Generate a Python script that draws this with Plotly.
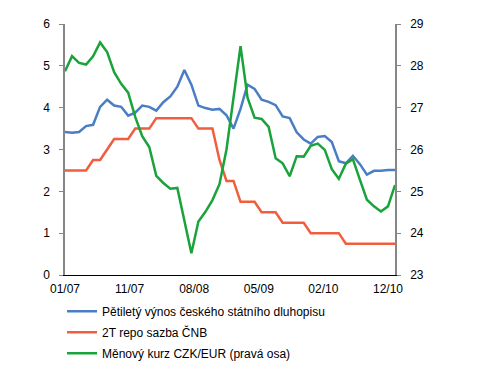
import plotly.graph_objects as go

months = list(range(48))  # monthly index, 01/2007 .. 12/2010
tick_labels = ["01/07", "11/07", "08/08", "05/09", "02/10", "12/10"]
tick_pos = [0, 9.2, 18.4, 27.6, 36.8, 46.0]

bond_5y = [3.42, 3.40, 3.42, 3.56, 3.59, 4.02, 4.19, 4.05, 4.02, 3.81,
           3.88, 4.05, 4.02, 3.93, 4.13, 4.27, 4.50, 4.90, 4.55, 4.05,
           3.99, 3.95, 3.97, 3.82, 3.50, 3.97, 4.55, 4.45, 4.19, 4.14,
           4.06, 3.79, 3.75, 3.41, 3.24, 3.14, 3.30, 3.32, 3.18, 2.72,
           2.67, 2.85, 2.65, 2.40, 2.49, 2.49, 2.51, 2.51]

repo_2w = [2.50, 2.50, 2.50, 2.50, 2.75, 2.75, 3.00, 3.25, 3.25, 3.25,
           3.50, 3.50, 3.50, 3.75, 3.75, 3.75, 3.75, 3.75, 3.75, 3.50,
           3.50, 3.50, 2.75, 2.25, 2.25, 1.75, 1.75, 1.75, 1.50, 1.50,
           1.50, 1.25, 1.25, 1.25, 1.25, 1.00, 1.00, 1.00, 1.00, 1.00,
           0.75, 0.75, 0.75, 0.75, 0.75, 0.75, 0.75, 0.75]

czk_eur = [27.87, 28.23, 28.07, 28.03, 28.23, 28.56, 28.33, 27.85, 27.57, 27.36,
           26.78, 26.32, 26.06, 25.37, 25.20, 25.06, 25.08, 24.30, 23.52, 24.28,
           24.51, 24.79, 25.17, 26.00, 27.25, 28.47, 27.24, 26.76, 26.73, 26.54,
           25.79, 25.67, 25.36, 25.84, 25.83, 26.09, 26.14, 25.99, 25.53, 25.30,
           25.66, 25.77, 25.28, 24.80, 24.64, 24.52, 24.64, 25.15]

names = ["Pětiletý výnos českého státního dluhopisu",
         "2T repo sazba ČNB",
         "Měnový kurz CZK/EUR (pravá osa)"]
colors = ["#4A7EC4", "#F05E3E", "#19A33A"]

fig = go.Figure()
fig.add_trace(go.Scatter(x=months, y=bond_5y, name=names[0], mode="lines",
                         line=dict(color=colors[0], width=2.5), legendgroup="a"))
fig.add_trace(go.Scatter(x=months, y=repo_2w, name=names[1], mode="lines",
                         line=dict(color=colors[1], width=2.5), legendgroup="b"))
fig.add_trace(go.Scatter(x=months, y=czk_eur, name=names[2], mode="lines",
                         line=dict(color=colors[2], width=2.5), legendgroup="c",
                         yaxis="y2"))

font = dict(family="Liberation Sans, Arial, sans-serif", size=12, color="#000000")

# page body has an 8px default margin, so the figure is sized/offset to compensate
fig.update_layout(
    width=472, height=366,
    margin=dict(l=57, r=85, t=16, b=99, autoexpand=False),
    paper_bgcolor="white", plot_bgcolor="white",
    font=font,
    showlegend=True,
    legend=dict(x=-0.009, y=-0.087, xanchor="left", yanchor="top",
                font=font, bgcolor="rgba(0,0,0,0)",
                traceorder="grouped", tracegroupgap=2),
    xaxis=dict(range=[0, 47], tickvals=tick_pos, ticktext=tick_labels,
               showgrid=False, zeroline=False, showline=True,
               linecolor="#000000", linewidth=1, ticks="",
               ticklabelstandoff=3, tickfont=font),
    yaxis=dict(range=[0, 6], dtick=1, showgrid=False, zeroline=False,
               showline=True, linecolor="#868686", linewidth=1.5,
               ticks="outside", ticklen=4, tickcolor="#868686",
               ticklabelstandoff=7, tickfont=font),
    yaxis2=dict(range=[23, 29], dtick=1, overlaying="y", side="right",
                showgrid=False, zeroline=False, showline=True,
                linecolor="#868686", linewidth=1.5,
                ticks="outside", ticklen=4, tickcolor="#868686",
                ticklabelstandoff=7, tickfont=font),
)

fig.write_html("out.html")
